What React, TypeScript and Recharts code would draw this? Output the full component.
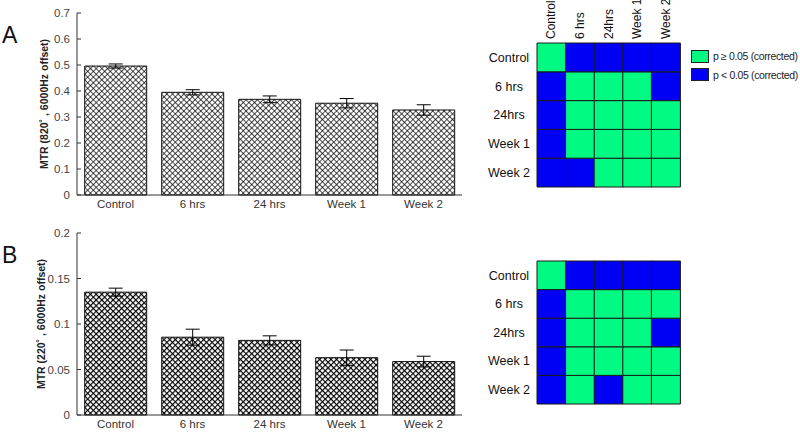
import React from 'react'
import { BarChart, Bar, XAxis, YAxis, ErrorBar, Cell } from 'recharts'

// groups shared by both bar panels
const groups = ['Control', '6 hrs', '24 hrs', 'Week 1', 'Week 2']

// panel A: MTR at 820 deg
const mtrA = [0.496, 0.395, 0.368, 0.353, 0.327]
const errA = [0.008, 0.01, 0.013, 0.018, 0.02]
const ticksA = [0, 0.1, 0.2, 0.3, 0.4, 0.5, 0.6, 0.7]

// panel B: MTR at 220 deg
const mtrB = [0.135, 0.0855, 0.082, 0.063, 0.0587]
const errB = [0.0044, 0.0088, 0.005, 0.0084, 0.0059]
const ticksB = [0, 0.05, 0.1, 0.15, 0.2]

// significance matrices (1 = p < 0.05), rows top->bottom, cols left->right
const matLabels = ['Control', '6 hrs', '24hrs', 'Week 1', 'Week 2']
const sigA = [
  [0, 1, 1, 1, 1],
  [1, 0, 0, 0, 1],
  [1, 0, 0, 0, 0],
  [1, 0, 0, 0, 0],
  [1, 1, 0, 0, 0],
]
const sigB = [
  [0, 1, 1, 1, 1],
  [1, 0, 0, 0, 0],
  [1, 0, 0, 0, 1],
  [1, 0, 0, 0, 0],
  [1, 0, 1, 0, 0],
]

const legendItems = [
  { label: 'p \u2265 0.05 (corrected)', sig: 0 },
  { label: 'p < 0.05 (corrected)', sig: 1 },
]

const GREEN = '#00fa82'
const BLUE = '#0000f5'
const FONT = '"Liberation Sans", Arial, Helvetica, sans-serif'

const barData = (vals: number[], errs: number[]) =>
  groups.map((g, i) => ({ name: g, value: vals[i], err: errs[i] }))

const matData = (sig: number[][]) =>
  matLabels.map((c) => {
    const row: any = { col: c }
    sig.forEach((_, ri) => { row['r' + ri] = 1 })
    return row
  })

const LeftTick = (props: any) => {
  const { x, y, payload } = props
  return (
    <g>
      <text x={x} y={y} dy="0.35em" textAnchor="end" fontSize={11.5} fill="#444" fontFamily={FONT}>
        {String(payload.value)}
      </text>
      <line x1={x + 7} x2={x + 11} y1={y} y2={y} stroke="#333" />
    </g>
  )
}

const RightTick = (props: any) => {
  const { x, y } = props
  return <line x1={x} x2={x - 4} y1={y} y2={y} stroke="#333" />
}

const TopTick = (props: any) => {
  const { x, y } = props
  return <line x1={x} x2={x} y1={y} y2={y + 4} stroke="#333" />
}

function BarPanel({ data, ticks, max, label, labelX, pattern, dark }: any) {
  return (
    <BarChart width={470} height={215} data={data} margin={{ top: 13, right: 8, bottom: 0, left: 0 }} barCategoryGap="10%">
      <defs>
        <pattern id={pattern} width={4} height={4} patternUnits="userSpaceOnUse" patternTransform="rotate(45)">
          <rect width={4} height={4} fill="#fff" />
          <line x1={0} y1={0} x2={0} y2={4} stroke="#000" strokeWidth={dark ? 2.3 : 1.4} />
          <line x1={0} y1={0} x2={4} y2={0} stroke="#000" strokeWidth={dark ? 2.3 : 1.4} />
        </pattern>
      </defs>
      <XAxis dataKey="name" tickLine={false} tickSize={0} tickMargin={5} height={20} axisLine={{ stroke: '#333' }}
        tick={{ fontSize: 11.5, fill: '#333', fontFamily: FONT }} />
      <XAxis xAxisId="top" dataKey="name" orientation="top" height={0} tickSize={0} tickMargin={0}
        tickLine={false} axisLine={{ stroke: '#333' }} tick={<TopTick />} />
      <YAxis domain={[0, max]} ticks={ticks} width={77} tickSize={0} tickMargin={7} tickLine={false}
        axisLine={{ stroke: '#333' }} tick={<LeftTick />}
        label={{ value: label, angle: -90, position: 'insideLeft', offset: labelX,
          style: { fontSize: 10.5, fontWeight: 'bold', fill: '#222', fontFamily: FONT, textAnchor: 'middle' } }} />
      <YAxis yAxisId="right" orientation="right" domain={[0, max]} ticks={ticks} width={0} tickSize={0}
        tickMargin={0} tickLine={false} axisLine={{ stroke: '#333' }} tick={<RightTick />} />
      <Bar dataKey="value" fill={`url(#${pattern})`} stroke="#111" strokeWidth={1} isAnimationActive={false}>
        <ErrorBar dataKey="err" width={7} stroke="#000" strokeWidth={1} />
      </Bar>
    </BarChart>
  )
}

const RowTick = (props: any) => {
  const { x, y, payload } = props
  return (
    <text x={x} y={y} dy="0.35em" textAnchor="middle" fontSize={12.5} fill="#111" fontFamily={FONT}>
      {matLabels[4 - Math.floor(payload.value)]}
    </text>
  )
}

const ColTick = (props: any) => {
  const { x, y, payload } = props
  return (
    <text x={x} y={y} dy="0.35em" textAnchor="start" fontSize={12} fill="#111" fontFamily={FONT}
      transform={`rotate(-90, ${x}, ${y})`}>
      {payload.value}
    </text>
  )
}

function MatPanel({ sig, showCols }: any) {
  const rows = [4, 3, 2, 1, 0]
  return (
    <BarChart width={210} height={200} data={matData(sig)}
      margin={{ top: showCols ? 0 : 41, right: 10, bottom: showCols ? 13 : 16, left: 0 }}
      barCategoryGap={0} barGap={0}>
      <XAxis dataKey="col" orientation="top" hide={!showCols} height={43} tickLine={false} axisLine={false}
        tickSize={0} tickMargin={4} tick={<ColTick />} interval={0} />
      <YAxis type="number" domain={[0, 5]} ticks={[0.5, 1.5, 2.5, 3.5, 4.5]} width={57} tickSize={0}
        tickMargin={28} tickLine={false} axisLine={false} tick={<RowTick />} interval={0} />
      {rows.map((ri) => (
        <Bar key={ri} dataKey={'r' + ri} stackId="m" stroke="#1a1a1a" strokeWidth={1} isAnimationActive={false}>
          {sig[ri].map((s: number, ci: number) => (
            <Cell key={ci} fill={s ? BLUE : GREEN} />
          ))}
        </Bar>
      ))}
    </BarChart>
  )
}

const LegendBox = () => (
  <div style={{ fontFamily: FONT, fontSize: 10.5, color: '#222', whiteSpace: 'nowrap', letterSpacing: -0.35 }}>
    {legendItems.map((it) => (
      <div key={it.label} style={{ display: 'flex', alignItems: 'center', height: 18.5 }}>
        <span style={{ display: 'inline-block', width: 16, height: 11, background: it.sig ? BLUE : GREEN,
          border: '1px solid #222', marginRight: 4, flexShrink: 0 }} />
        {it.label}
      </div>
    ))}
  </div>
)

export default function App() {
  return (
    <div style={{ position: 'absolute', left: 0, top: 0, width: 800, height: 432, background: '#fff', fontFamily: FONT }}>
      <div style={{ position: 'absolute', left: 0, top: 0 }}>
        <BarPanel data={barData(mtrA, errA)} ticks={ticksA} max={0.7} labelX={44}
          label={'MTR (820\u02da , 6000Hz offset)'} pattern="hatchA" />
      </div>
      <div style={{ position: 'absolute', left: 0, top: 220 }}>
        <BarPanel data={barData(mtrB, errB)} ticks={ticksB} max={0.2} labelX={41}
          label={'MTR (220\u02da , 6000Hz offset)'} pattern="hatchB" dark />
      </div>
      <div style={{ position: 'absolute', left: 480, top: 0 }}>
        <MatPanel sig={sigA} showCols />
      </div>
      <div style={{ position: 'absolute', left: 480, top: 220 }}>
        <MatPanel sig={sigB} />
      </div>
      <div style={{ position: 'absolute', left: 691, top: 47 }}>
        <LegendBox />
      </div>
      <div style={{ position: 'absolute', left: 2, top: 22, fontSize: 23, color: '#111' }}>A</div>
      <div style={{ position: 'absolute', left: 2, top: 242, fontSize: 23, color: '#111' }}>B</div>
    </div>
  )
}
